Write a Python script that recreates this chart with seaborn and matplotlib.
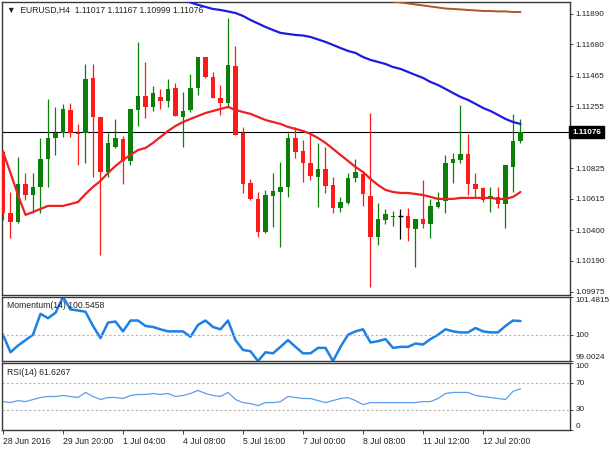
import numpy as np
import pandas as pd
import matplotlib
matplotlib.use("Agg")
import matplotlib.pyplot as plt
import matplotlib.transforms as mtrans
import seaborn as sns

# EURUSD H4 candles
opens = [1.10939, 1.10518, 1.10456, 1.10718, 1.10642, 1.10698, 1.10890, 1.11035, 1.11070, 1.11228,
         1.11070, 1.11070, 1.11449, 1.11180, 1.10801, 1.10973, 1.11028, 1.10877, 1.11228, 1.11325,
         1.11249, 1.11318, 1.11290, 1.11380, 1.11180, 1.11228, 1.11380, 1.11593, 1.11455, 1.11311,
         1.11276, 1.11531, 1.11070, 1.10725, 1.10615, 1.10388, 1.10636, 1.10663, 1.10698, 1.11035,
         1.10946, 1.10863, 1.10766, 1.10822, 1.10711, 1.10553, 1.10587, 1.10760, 1.10787, 1.10636,
         1.10353, 1.10470, 1.10491, 1.10498, 1.10498, 1.10408, 1.10477, 1.10443, 1.10560, 1.10601,
         1.10863, 1.10884, 1.10925, 1.10718, 1.10691, 1.10615, 1.10629, 1.10580, 1.10835, 1.11017]
highs = [1.10952, 1.10663, 1.10904, 1.10794, 1.10794, 1.11035, 1.11304, 1.11249, 1.11269, 1.11276,
         1.11132, 1.11545, 1.11545, 1.11180, 1.11070, 1.11166, 1.11049, 1.11235, 1.11697, 1.11559,
         1.11393, 1.11373, 1.11442, 1.11414, 1.11352, 1.11476, 1.11593, 1.11593, 1.11490, 1.11400,
         1.11862, 1.11669, 1.11111, 1.10753, 1.10663, 1.10677, 1.10794, 1.10870, 1.11070, 1.11111,
         1.11021, 1.11070, 1.11001, 1.10973, 1.10766, 1.10629, 1.10794, 1.10890, 1.10801, 1.11207,
         1.10587, 1.10546, 1.10532, 1.10546, 1.10553, 1.10477, 1.10746, 1.10615, 1.10663, 1.10918,
         1.10932, 1.11263, 1.11063, 1.10794, 1.10698, 1.10698, 1.10698, 1.10849, 1.11201, 1.11167]
lows = [1.10470, 1.10346, 1.10450, 1.10608, 1.10518, 1.10518, 1.10698, 1.10918, 1.11042, 1.11042,
        1.10849, 1.10863, 1.10766, 1.10229, 1.10766, 1.10966, 1.10718, 1.10849, 1.11118, 1.11173,
        1.11221, 1.11235, 1.11249, 1.11187, 1.10973, 1.11214, 1.11331, 1.11449, 1.11311, 1.11194,
        1.11249, 1.11056, 1.10656, 1.10608, 1.10353, 1.10381, 1.10422, 1.10284, 1.10629, 1.10897,
        1.10732, 1.10746, 1.10560, 1.10656, 1.10518, 1.10525, 1.10580, 1.10732, 1.10567, 1.10009,
        1.10298, 1.10443, 1.10429, 1.10339, 1.10326, 1.10146, 1.10415, 1.10346, 1.10553, 1.10518,
        1.10725, 1.10863, 1.10642, 1.10629, 1.10594, 1.10525, 1.10553, 1.10415, 1.10663, 1.10999]
closes = [1.10518, 1.10456, 1.10718, 1.10642, 1.10698, 1.10890, 1.11035, 1.11070, 1.11235, 1.11070,
          1.11063, 1.11442, 1.11180, 1.10801, 1.11001, 1.11035, 1.10877, 1.11235, 1.11325, 1.11249,
          1.11345, 1.11290, 1.11373, 1.11187, 1.11221, 1.11380, 1.11593, 1.11455, 1.11311, 1.11276,
          1.11538, 1.11056, 1.10718, 1.10615, 1.10388, 1.10642, 1.10670, 1.10698, 1.11035, 1.10939,
          1.10863, 1.10773, 1.10822, 1.10704, 1.10553, 1.10594, 1.10760, 1.10801, 1.10649, 1.10353,
          1.10477, 1.10512, 1.10498, 1.10498, 1.10415, 1.10477, 1.10443, 1.10567, 1.10594, 1.10863,
          1.10890, 1.10925, 1.10718, 1.10684, 1.10608, 1.10636, 1.10580, 1.10849, 1.11015, 1.11076]

# moving averages (red starts at first candle, blue at candle 24, brown at candle 52)
ma_red = [1.10939, 1.10794, 1.10642, 1.10505, 1.10525, 1.10546, 1.10567, 1.10567, 1.10567, 1.10580,
          1.10594, 1.10649, 1.10698, 1.10739, 1.10794, 1.10842, 1.10884, 1.10918, 1.10952, 1.10966,
          1.11001, 1.11042, 1.11083, 1.11118, 1.11145, 1.11166, 1.11187, 1.11207, 1.11221, 1.11235,
          1.11249, 1.11228, 1.11214, 1.11201, 1.11180, 1.11159, 1.11145, 1.11132, 1.11111, 1.11098,
          1.11083, 1.11063, 1.11035, 1.11001, 1.10960, 1.10918, 1.10877, 1.10835, 1.10801, 1.10753,
          1.10711, 1.10677, 1.10663, 1.10656, 1.10656, 1.10649, 1.10642, 1.10629, 1.10615, 1.10615,
          1.10615, 1.10622, 1.10622, 1.10622, 1.10622, 1.10622, 1.10615, 1.10615, 1.10629, 1.10663]
ma_blue = [1.11986, 1.11969, 1.11952, 1.11938, 1.11924, 1.11917, 1.11907, 1.11896, 1.11876, 1.11848,
           1.11824, 1.11800, 1.11779, 1.11759, 1.11752, 1.11745, 1.11741, 1.11731, 1.11714, 1.11697,
           1.11676, 1.11655, 1.11635, 1.11621, 1.11593, 1.11573, 1.11559, 1.11545, 1.11524, 1.11511,
           1.11490, 1.11469, 1.11449, 1.11421, 1.11400, 1.11373, 1.11345, 1.11318, 1.11297, 1.11270,
           1.11242, 1.11221, 1.11194, 1.11166, 1.11145, 1.11132]
ma_brown = [1.11976, 1.11969, 1.11962, 1.11955, 1.11948, 1.11941, 1.11934, 1.11927, 1.11924, 1.11921,
            1.11917, 1.11914, 1.11910, 1.11910, 1.11907, 1.11907, 1.11903, 1.11903]

momentum = [100.02, 99.34, 99.60, 99.81, 100.02, 100.83, 100.66, 100.87, 101.48, 101.00,
            100.96, 100.91, 100.36, 99.89, 100.49, 100.53, 100.15, 100.57, 100.57, 100.36,
            100.32, 100.23, 100.15, 100.15, 100.15, 99.94, 100.40, 100.57, 100.32, 100.23,
            100.57, 99.81, 99.43, 99.38, 99.00, 99.34, 99.30, 99.55, 99.81, 99.55,
            99.30, 99.30, 99.51, 99.51, 99.00, 99.55, 100.02, 100.15, 100.23, 99.72,
            99.77, 99.85, 99.51, 99.55, 99.55, 99.68, 99.64, 99.85, 100.02, 100.23,
            100.15, 100.11, 100.11, 100.28, 100.15, 100.11, 100.11, 100.36, 100.57, 100.55]
rsi = [42.4, 40.9, 43.9, 42.4, 45.5, 48.5, 50.0, 50.0, 51.5, 50.0,
       48.5, 56.1, 50.0, 45.5, 48.5, 48.5, 47.0, 51.5, 53.0, 53.0,
       54.5, 53.0, 54.5, 50.0, 51.5, 54.5, 59.1, 54.5, 51.5, 50.0,
       56.1, 45.5, 40.9, 39.4, 36.4, 40.9, 40.9, 42.4, 50.0, 48.5,
       47.0, 47.0, 43.9, 40.9, 43.9, 47.0, 48.5, 43.9, 37.9, 40.9,
       40.9, 40.9, 40.9, 40.9, 40.9, 40.9, 42.4, 42.4, 47.0, 54.5,
       56.1, 56.1, 56.1, 51.5, 50.0, 48.5, 47.0, 45.5, 57.6, 61.6]

date_ticks = [0, 8, 16, 24, 32, 40, 48, 56, 64]
date_labels = ["28 Jun 2016", "29 Jun 20:00", "1 Jul 04:00", "4 Jul 08:00", "5 Jul 16:00",
               "7 Jul 00:00", "8 Jul 08:00", "11 Jul 12:00", "12 Jul 20:00"]
price_ticks = [1.11890, 1.11680, 1.11465, 1.11255, 1.11045, 1.10825, 1.10615, 1.10400, 1.10190, 1.09975]
last_price = 1.11076

sns.set_style("white")
plt.rcParams['font.family'] = ['Liberation Sans', 'DejaVu Sans']
FS = 6.2      # panel captions and dates
FS_Y = 5.9    # right-hand scale labels

n = len(opens)
idx = np.arange(n)
df = pd.DataFrame({'i': idx, 'o': opens, 'h': highs, 'l': lows, 'c': closes,
                   'ma': ma_red, 'mom': momentum, 'rsi': rsi})

fig = plt.figure(figsize=(6.1, 4.5), dpi=100)
W, H = 610.0, 450.0
def box(x0, y0, x1, y1):
    return [x0 / W, 1 - y1 / H, (x1 - x0) / W, (y1 - y0) / H]

ax = fig.add_axes(box(2, 2, 570, 295))
ax_m = fig.add_axes(box(2, 297, 570, 361))
ax_r = fig.add_axes(box(2, 363, 570, 430))

xlim = (-0.133, 75.6)
for a in (ax, ax_m, ax_r):
    a.set_xlim(*xlim)
    a.yaxis.tick_right()
    a.tick_params(axis='y', direction='out', length=2.5, width=0.6, pad=1.5, labelsize=FS_Y,
                  colors='#222222')
    for s in a.spines.values():
        s.set_color('#3a3a3a')
        s.set_linewidth(1.0)

# candles
green, red = '#0a800a', '#ff1a1a'
for r in df.itertuples():
    if r.c > r.o:
        col = green
    elif r.c < r.o:
        col = red
    else:
        col = 'black'
    ax.vlines(r.i, r.l, r.h, color=col, linewidth=0.9, zorder=2)
    if r.c == r.o:
        ax.hlines(r.o, r.i - 0.3, r.i + 0.3, color=col, linewidth=1.0, zorder=3)
    else:
        ax.bar(r.i, abs(r.c - r.o), bottom=min(r.o, r.c), width=0.62, color=col,
               linewidth=0, zorder=3)

sns.lineplot(x=df['i'], y=df['ma'], ax=ax, color='#ee2020', linewidth=1.6, zorder=4)
sns.lineplot(x=idx[n - len(ma_blue):], y=ma_blue, ax=ax, color='#1c1ce0', linewidth=1.6, zorder=4)
sns.lineplot(x=idx[n - len(ma_brown):], y=ma_brown, ax=ax, color='#b0552a', linewidth=1.4, zorder=4)

ax.axhline(last_price, color='black', linewidth=0.8, zorder=1)
ax.set_ylim(1.09953, 1.11972)
ax.set_yticks(price_ticks)
ax.set_yticklabels([f"{p:.5f}" for p in price_ticks])
ax.set_xticks([])
ax.set_xlabel('')
ax.set_ylabel('')
tr = mtrans.blended_transform_factory(ax.transAxes, ax.transData)
ax.text(1.004, last_price, f"{last_price:.5f}", transform=tr, ha='left', va='center',
        fontsize=FS_Y, color='white', fontweight='bold', zorder=10, clip_on=False,
        bbox=dict(boxstyle='square,pad=0.35', facecolor='black', edgecolor='black'))
ax.text(0.009, 0.972, "\u25bc  EURUSD,H4  1.11017 1.11167 1.10999 1.11076", transform=ax.transAxes,
        ha='left', va='center', fontsize=FS, color='#222222')

# momentum
sns.lineplot(x=df['i'], y=df['mom'], ax=ax_m, color='#1e7fe6', linewidth=1.8)
ax_m.axhline(100, color='#b5b5b5', linewidth=0.8, linestyle=(0, (2, 2)))
ax_m.set_ylim(99.0024, 101.4815)
ax_m.set_yticks([101.4815, 100, 99.0024])
ax_m.set_yticklabels(["101.4815", "100", "99.0024"])
for lab, va in zip(ax_m.get_yticklabels(), ['top', 'center', 'bottom']):
    lab.set_verticalalignment(va)
ax_m.set_xticks([])
ax_m.set_xlabel('')
ax_m.set_ylabel('')
ax_m.text(0.009, 0.86, "Momentum(14) 100.5458", transform=ax_m.transAxes, ha='left', va='center',
          fontsize=FS, color='#222222')

# RSI
sns.lineplot(x=df['i'], y=df['rsi'], ax=ax_r, color='#5a9ee8', linewidth=0.9)
for lv in (70, 30):
    ax_r.axhline(lv, color='#b5b5b5', linewidth=0.8, linestyle=(0, (2, 2)))
ax_r.set_ylim(0, 100)
ax_r.set_yticks([100, 70, 30, 0])
ax_r.set_yticklabels(["100", "70", "30", "0"])
for lab, va in zip(ax_r.get_yticklabels(), ['top', 'center', 'center', 'bottom']):
    lab.set_verticalalignment(va)
ax_r.set_xlabel('')
ax_r.set_ylabel('')
ax_r.text(0.009, 0.86, "RSI(14) 61.6267", transform=ax_r.transAxes, ha='left', va='center',
          fontsize=FS, color='#222222')
ax_r.set_xticks(date_ticks)
ax_r.set_xticklabels(date_labels, ha='left')
ax_r.tick_params(axis='x', direction='out', length=3, width=0.6, pad=2, labelsize=FS,
                 colors='#222222', bottom=True)

fig.savefig("out.png", dpi=100, facecolor='white')
